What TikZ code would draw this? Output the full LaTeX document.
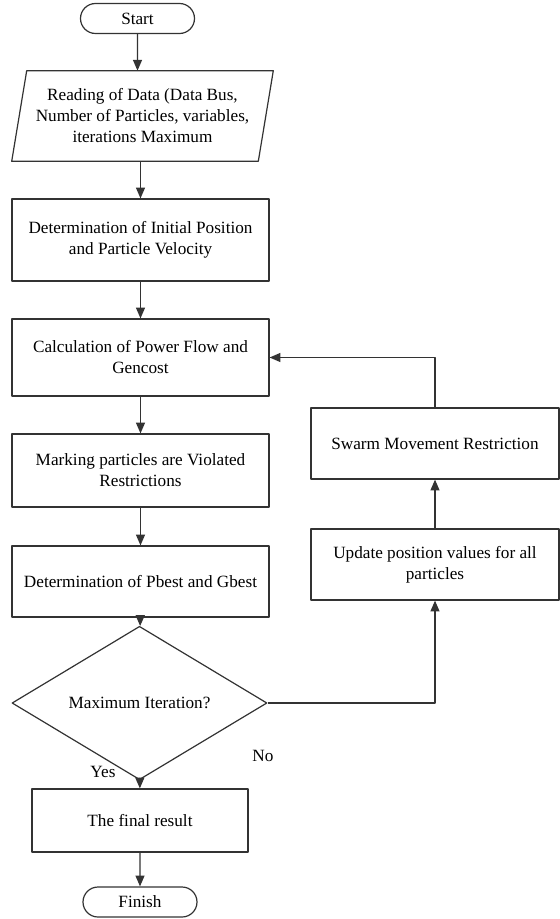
\documentclass[tikz,border=0pt]{standalone}
\usepackage{fontspec}
\setmainfont{Liberation Serif}
\usetikzlibrary{shapes.geometric,shapes.misc,arrows.meta,calc}
\newcommand\pxu{0.0233cm}
\begin{document}
\begin{tikzpicture}[x=\pxu,y=-\pxu,>={Triangle[length=7.2pt,width=6pt]},
font=\fontsize{11.4}{13.9}\selectfont, line join=round,
box/.style={draw=black!80,line width=0.8pt,rectangle,align=center,inner sep=0pt},
term/.style={draw=black!80,line width=0.8pt,rounded rectangle,minimum width=114*\pxu,minimum height=30*\pxu,inner sep=0pt},
cond/.style={draw=black!80,line width=0.8pt,diamond,minimum width=255*\pxu,minimum height=108*\pxu,inner sep=0pt},
arr/.style={->,draw=black!80,line width=0.8pt}]
\useasboundingbox (0,0) rectangle (560,919);
% main column
\node[term] (start) at (137.5,18.5) {Start};
\node[align=center,inner sep=0pt,minimum width=246*\pxu,minimum height=90*\pxu] (data) at (142.5,116)
  {Reading of Data (Data Bus,\\Number of Particles, variables,\\iterations Maximum};
\draw[draw=black!80,line width=0.8pt]
  ($(data.north west)+(7.5,0)$) -- ($(data.north east)+(7.5,0)$)
  -- ($(data.south east)+(-7.5,0)$) -- ($(data.south west)+(-7.5,0)$) -- cycle;
\node[box,minimum width=257*\pxu,minimum height=82*\pxu] (det) at (140.5,240)
  {Determination of Initial Position\\and Particle Velocity};
\node[box,minimum width=257*\pxu,minimum height=77*\pxu] (calc) at (140.5,357.5)
  {Calculation of Power Flow and\\Gencost};
\node[box,minimum width=257*\pxu,minimum height=73*\pxu] (mark) at (140.5,470.5)
  {Marking particles are Violated\\Restrictions};
\node[box,minimum width=257*\pxu,minimum height=71*\pxu] (pbest) at (140.5,581.5)
  {Determination of Pbest and Gbest};
\node[cond] (maxit) at (139.5,703) {Maximum Iteration?};
\node[box,minimum width=216*\pxu,minimum height=63*\pxu] (final) at (140,820.5) {The final result};
\node[term] (finish) at (140,902) {Finish};
% loop column
\node[box,minimum width=248*\pxu,minimum height=71*\pxu] (update) at (435,564.5)
  {Update position values for all\\particles};
\node[box,minimum width=248*\pxu,minimum height=71*\pxu] (swarm) at (435,443.5)
  {Swarm Movement Restriction};
\node (yes) at (103,772) {Yes};
\node (no) at (263,756) {No};
\draw[arr] (start) -- (start |- data.north);
\draw[arr] (det.north |- data.south) -- (det);
\draw[arr] (det) -- (calc);
\draw[arr] (calc) -- (mark);
\draw[arr] (mark) -- (pbest);
\draw[arr] (pbest) -- (maxit);
\draw[arr] (maxit) -- (final);
\draw[arr] (final) -- (finish);
\draw[arr] (maxit.east) -| (update.south);
\draw[arr] (update) -- (swarm);
\draw[arr] (swarm.north) |- (calc.east);
\end{tikzpicture}
\end{document}
